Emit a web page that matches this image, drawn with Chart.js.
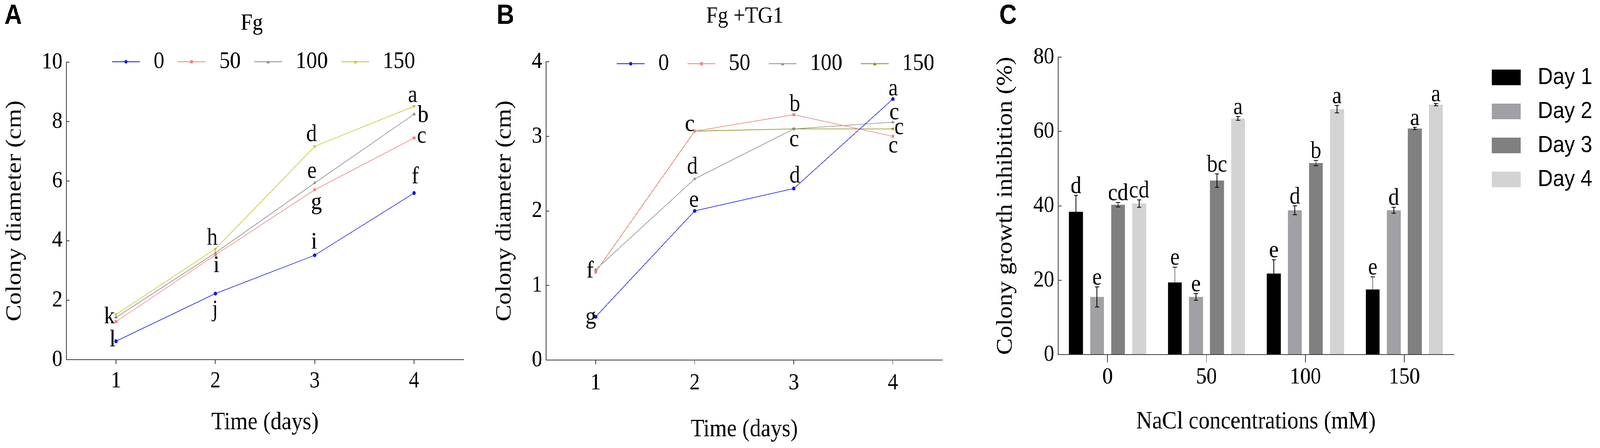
<!DOCTYPE html>
<html>
<head>
<meta charset="utf-8">
<script src="https://cdn.jsdelivr.net/npm/chart.js@4.4.1/dist/chart.umd.min.js"></script>
<style>
  html, body { margin: 0; padding: 0; background: #fff; overflow: hidden; }
  #frame { position: absolute; left: 0; top: 0; width: 100vw; height: 100vh; overflow: hidden; }
  #page { position: absolute; left: 0; top: 0; width: 4606px; height: 1146px; transform-origin: 0 0; background: #fff; }
  canvas { position: absolute; top: 0; }
</style>
</head>
<body>
<div id="frame"><div id="page">
<canvas id="chartA" width="1450" height="1146" style="left:0px"></canvas>
<canvas id="chartB" width="1440" height="1146" style="left:1410px"></canvas>
<canvas id="chartC" width="1756" height="1146" style="left:2850px"></canvas>
</div></div>
<script>
// ---- data ----
const days = ['1', '2', '3', '4'];
const nacl = ['0', '50', '100', '150'];
const seriesNames = ['0', '50', '100', '150'];

// A : Fg, colony diameter (cm)
const fg0   = [0.62, 2.22, 3.51, 5.60];
const fg50  = [1.28, 3.52, 5.71, 7.45];
const fg100 = [1.42, 3.59, 5.94, 8.25];
const fg150 = [1.52, 3.72, 7.17, 8.52];
const fgLetters = [['l', 'j', 'i', 'f'], ['k', 'i', 'g', 'c'], ['', '', 'e', 'b'], ['', 'h', 'd', 'a']];

// B : Fg + TG1, colony diameter (cm)
const tg0   = [0.58, 2.00, 2.30, 3.50];
const tg50  = [1.18, 3.07, 3.29, 3.00];
const tg100 = [1.21, 2.43, 3.10, 3.19];
const tg150 = [1.18, 3.07, 3.10, 3.10];
const tgLetters = [['g', 'e', 'd', 'a'], ['f', 'c', 'b', 'c'], ['', 'd', 'c', 'c'], ['', '', '', 'c']];

// C : colony growth inhibition (%)
const dayNames = ['Day 1', 'Day 2', 'Day 3', 'Day 4'];
const inhDay1 = [38.4, 19.4, 21.8, 17.5];
const inhDay2 = [15.5, 15.5, 38.8, 38.8];
const inhDay3 = [40.3, 46.8, 51.5, 60.8];
const inhDay4 = [40.6, 63.5, 66.0, 67.2];
const errDay1 = [4.4, 4.1, 3.7, 3.4];
const errDay2 = [2.7, 0.9, 1.2, 0.8];
const errDay3 = [0.6, 1.8, 0.7, 0.3];
const errDay4 = [1.0, 0.5, 1.0, 0.3];
const inhLetters = [['d', 'e', 'e', 'e'], ['e', 'e', 'd', 'd'], ['cd', 'bc', 'b', 'a'], ['cd', 'a', 'a', 'a']];

// fit the 4606x1146 sheet into whatever the window really is
const page = document.getElementById('page');
const sx = window.innerWidth > 0 ? window.innerWidth / 4606 : 1;
const sy = window.innerHeight > 0 ? window.innerHeight / 1146 : 1;
page.style.transform = 'scale(' + sx + ',' + sy + ')';

// ---- look ----
const SERIF = 'Liberation Serif';
const SANS = 'Liberation Sans';
const AXIS = '#3a3a3a';
Chart.defaults.font.family = SERIF;
Chart.defaults.color = '#000';

// where the letters sit relative to their point (px)
const fgOffsets = [
  [[-10, -3], [-1, 42], [-2, -33], [3, -41]],
  [[-19, -12], [3, 28], [5, 33], [22, -4]],
  [[0, 0], [0, 0], [-8, -29], [26, 4]],
  [[0, 0], [-9, -27], [-9, -30], [-4, -27]]
];
const tgOffsets = [
  [[-14, 1], [-2, -27], [3, -32], [1, -26]],
  [[-16, -2], [-14, -17], [3, -26], [1, 25]],
  [[0, 0], [-7, -30], [1, 28], [4, -24]],
  [[0, 0], [0, 0], [0, 0], [18, -3]]
];

// legend sample: short line with the marker in the middle
function lineSample(color, style, rot) {
  const c = document.createElement('canvas');
  c.width = 80; c.height = 20;
  const g = c.getContext('2d');
  g.strokeStyle = color; g.fillStyle = color; g.lineWidth = 2;
  g.beginPath(); g.moveTo(0, 10); g.lineTo(80, 10); g.stroke();
  g.beginPath();
  if (style === 'circle') {
    g.arc(40, 10, 4.5, 0, Math.PI * 2);
  } else if (style === 'rect') {
    g.rect(36, 6, 8, 8);
  } else if (rot) {
    g.moveTo(35, 6); g.lineTo(45, 6); g.lineTo(40, 14);
  } else {
    g.moveTo(35, 14); g.lineTo(45, 14); g.lineTo(40, 6);
  }
  g.fill();
  return c;
}
function boxSample(color) {
  const c = document.createElement('canvas');
  c.width = 83; c.height = 40;
  const g = c.getContext('2d');
  g.fillStyle = color; g.fillRect(0, 0, 83, 40);
  return c;
}

// ---- plugins ----
function legendAt(x, y) {
  return {
    id: 'legendAt',
    beforeDraw(chart) {
      const lg = chart.legend;
      const w = lg.right - lg.left, h = lg.bottom - lg.top;
      lg.left = x; lg.right = x + w + 400;
      lg.top = y; lg.bottom = y + h + 800;
    }
  };
}
function panelText(tag, tagX, title, titleX, titleY) {
  return {
    id: 'panelText',
    afterDraw(chart) {
      const ctx = chart.ctx;
      ctx.save();
      ctx.fillStyle = '#000';
      ctx.textAlign = 'center';
      ctx.textBaseline = 'middle';
      ctx.font = 'bold 70px "' + SANS + '"';
      ctx.fillText(tag, tagX, 42);
      if (title) {
        ctx.font = '60px "' + SERIF + '"';
        ctx.fillText(title, titleX, titleY);
      }
      ctx.restore();
    }
  };
}
function pointLetters(letters, offsets) {
  return {
    id: 'pointLetters',
    afterDatasetsDraw(chart) {
      const ctx = chart.ctx;
      ctx.save();
      ctx.font = '62px "' + SERIF + '"';
      ctx.fillStyle = '#000';
      ctx.textAlign = 'center';
      ctx.textBaseline = 'middle';
      letters.forEach((row, i) => {
        const meta = chart.getDatasetMeta(i);
        row.forEach((t, j) => {
          if (!t) return;
          const p = meta.data[j];
          ctx.fillText(t, p.x + offsets[i][j][0], p.y + offsets[i][j][1]);
        });
      });
      ctx.restore();
    }
  };
}

// ---- line panels ----
function lineChart(id, o) {
  const styles = [['circle', 0], ['rect', 0], ['triangle', 0], ['triangle', 180]];
  const samples = o.colors.map((c, i) => lineSample(c, styles[i][0], styles[i][1]));
  const datasets = o.series.map((d, i) => ({
    label: seriesNames[i],
    data: d,
    borderColor: o.colors[i],
    backgroundColor: o.colors[i],
    pointBackgroundColor: o.colors[i],
    pointBorderColor: o.colors[i],
    borderWidth: 1.6,
    pointStyle: styles[i][0],
    pointRotation: styles[i][1],
    pointRadius: 4.5,
    pointBorderWidth: 1,
    tension: 0,
    fill: false
  }));

  return new Chart(document.getElementById(id), {
    type: 'line',
    data: { labels: days, datasets: datasets },
    options: {
      responsive: false,
      animation: false,
      devicePixelRatio: 1,
      // top padding + legend row (itemHeight + padding + 10) = top of plot
      layout: { padding: { left: 0, top: o.areaTop - (62 + o.legendPad + 10), right: o.padRight, bottom: 0 } },
      plugins: {
        title: { display: false },
        legend: {
          position: 'top', align: 'start',
          labels: {
            usePointStyle: true, pointStyleWidth: 96, padding: o.legendPad,
            color: '#000', font: { family: SERIF, size: 62 },
            generateLabels: chart => Chart.defaults.plugins.legend.labels.generateLabels(chart)
              .map((it, i) => Object.assign(it, { pointStyle: samples[i] }))
          }
        },
        tooltip: { enabled: false }
      },
      scales: {
        x: {
          type: 'category', offset: true,
          grid: { display: true, drawOnChartArea: false, drawTicks: true, tickLength: 11, color: AXIS, lineWidth: 2 },
          border: { display: true, color: AXIS, width: 2 },
          ticks: { color: '#000', font: { family: SERIF, size: 60 }, padding: o.xTickPad, maxRotation: 0 },
          title: {
            display: true, text: 'Time (days)', color: '#000',
            font: { family: SERIF, size: 64 }, padding: { top: 0, bottom: o.xTitlePad }
          },
          afterFit: s => { s.height = o.xHeight; }
        },
        y: {
          min: 0, max: o.yMax,
          grid: { display: true, drawOnChartArea: false, drawTicks: true, tickLength: -9, color: AXIS, lineWidth: 2 },
          border: { display: true, color: AXIS, width: 2 },
          ticks: { stepSize: o.yStep, color: '#000', font: { family: SERIF, size: 60 }, padding: 20 },
          title: {
            display: true, text: 'Colony diameter (cm)', color: '#000',
            font: { family: SERIF, size: 64 }, padding: { top: 5, bottom: 0 }
          },
          afterFit: s => { s.width = o.yWidth; }
        }
      }
    },
    plugins: [legendAt(o.legendX, o.legendY), panelText(o.tag, o.tagX, o.title, o.titleX, o.titleY), pointLetters(o.letters, o.offsets)]
  });
}

lineChart('chartA', {
  series: [fg0, fg50, fg100, fg150],
  colors: ['#1414e8', '#f08282', '#8c8c8c', '#c4c41c'],
  title: 'Fg', titleX: 725, titleY: 60, areaTop: 159,
  padRight: 115, yWidth: 191, xHeight: 226, xTitlePad: 26, xTickPad: 8,
  yMax: 10, yStep: 2,
  legendPad: 31, legendX: 284, legendY: 96,
  tag: 'A', tagX: 38,
  letters: fgLetters, offsets: fgOffsets
});

lineChart('chartB', {
  series: [tg0, tg50, tg100, tg150],
  colors: ['#1414e8', '#f08282', '#8c8c8c', '#8c8c14'],
  title: 'Fg +TG1', titleX: 734, titleY: 42, areaTop: 158,
  padRight: 137, yWidth: 162, xHeight: 225, xTitlePad: 8, xTickPad: 12,
  yMax: 4, yStep: 1,
  legendPad: 45, legendX: 313, legendY: 87,
  tag: 'B', tagX: 45,
  letters: tgLetters, offsets: tgOffsets
});

// ---- bar panel ----
const barColors = ['#000000', '#a1a1a5', '#808080', '#d3d3d3'];
const barSamples = barColors.map(boxSample);
const barErrors = [errDay1, errDay2, errDay3, errDay4];

const errorBars = {
  id: 'errorBars',
  afterDatasetsDraw(chart) {
    const ctx = chart.ctx;
    const y = chart.scales.y;
    ctx.save();
    ctx.strokeStyle = '#000';
    ctx.lineWidth = 2;
    ctx.fillStyle = '#000';
    ctx.font = '62px "' + SERIF + '"';
    ctx.textAlign = 'center';
    ctx.textBaseline = 'alphabetic';
    chart.data.datasets.forEach((ds, i) => {
      chart.getDatasetMeta(i).data.forEach((bar, j) => {
        const v = ds.data[j], e = barErrors[i][j];
        const top = y.getPixelForValue(v + e);
        const bot = y.getPixelForValue(v - e);
        ctx.beginPath();
        ctx.moveTo(bar.x, top); ctx.lineTo(bar.x, bot);
        ctx.moveTo(bar.x - 6, top); ctx.lineTo(bar.x + 6, top);
        ctx.moveTo(bar.x - 6, bot); ctx.lineTo(bar.x + 6, bot);
        ctx.stroke();
        ctx.fillText(inhLetters[i][j], bar.x, top - 6);
      });
    });
    ctx.restore();
  }
};

new Chart(document.getElementById('chartC'), {
  type: 'bar',
  data: {
    labels: nacl,
    datasets: [inhDay1, inhDay2, inhDay3, inhDay4].map((d, i) => ({
      label: dayNames[i],
      data: d,
      backgroundColor: barColors[i],
      borderWidth: 0,
      categoryPercentage: 0.852,
      barPercentage: 0.66
    }))
  },
  options: {
    responsive: false,
    animation: false,
    devicePixelRatio: 1,
    layout: { padding: { left: 0, top: 146, right: 421, bottom: 0 } },
    plugins: {
      legend: {
        position: 'chartArea', align: 'start',
        labels: {
          usePointStyle: true, pointStyleWidth: 121, padding: 27,
          color: '#000', font: { family: SANS, size: 60 },
          generateLabels: chart => Chart.defaults.plugins.legend.labels.generateLabels(chart)
            .map((it, i) => Object.assign(it, { pointStyle: barSamples[i] }))
        }
      },
      tooltip: { enabled: false }
    },
    scales: {
      x: {
        offset: true,
        grid: { display: true, offset: false, drawOnChartArea: false, drawTicks: true, tickLength: 20, color: AXIS, lineWidth: 2 },
        border: { display: true, color: AXIS, width: 2 },
        ticks: { color: '#000', font: { family: SERIF, size: 60 }, padding: 2, maxRotation: 0 },
        title: {
          display: true, text: 'NaCl concentrations (mM)', color: '#000',
          font: { family: SERIF, size: 64 }, padding: { top: 0, bottom: 28 }
        },
        afterFit: s => { s.height = 239; }
      },
      y: {
        min: 0, max: 80,
        grid: { display: true, drawOnChartArea: false, drawTicks: true, tickLength: -10, color: AXIS, lineWidth: 2 },
        border: { display: true, color: AXIS, width: 2 },
        ticks: { stepSize: 20, color: '#000', font: { family: SERIF, size: 60 }, padding: 21 },
        title: {
          display: true, text: 'Colony growth inhibition (%)', color: '#000',
          font: { family: SERIF, size: 64 }, padding: { top: 7, bottom: 0 }
        },
        afterFit: s => { s.width = 196; }
      }
    }
  },
  plugins: [legendAt(1399, 141), panelText('C', 52, '', 0, 0), errorBars]
});
</script>
</body>
</html>
